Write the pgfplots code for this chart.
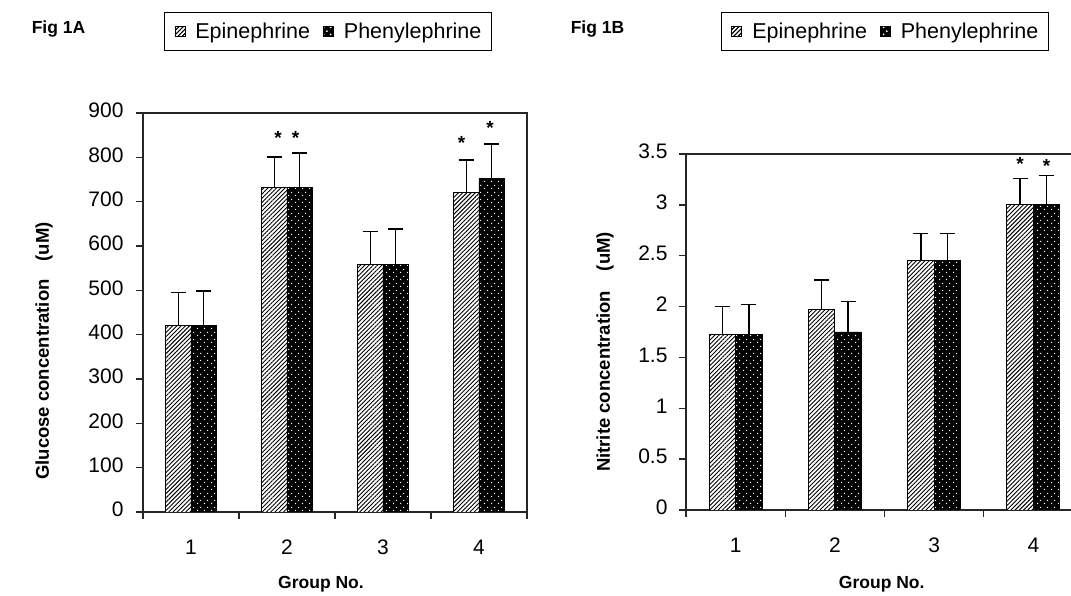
\documentclass[border=0pt]{standalone}
\usepackage{fontspec}
\setmainfont{Liberation Sans}
\usepackage{pgfplots}
\pgfplotsset{compat=1.18}
\usetikzlibrary{patterns.meta}

\tikzdeclarepattern{
  name=wdots,
  type=uncolored,
  bounding box={(0pt,0pt) and (7pt,7pt)},
  tile size={(7pt,7pt)},
  code={
    \fill (1.75pt,1.75pt) circle (0.85pt);
    \fill (5.25pt,5.25pt) circle (0.85pt);
  }
}

\pgfplotsset{
  hatchbar/.style={ybar, bar shift=0pt, draw=black, line width=0.8pt, fill=white,
    postaction={pattern={Lines[angle=45,distance=3pt,line width=0.9pt]}, pattern color=black},
    legend image code/.code={\draw[line width=0.8pt, fill=white, postaction={pattern={Lines[angle=45,distance=3pt,line width=0.8pt]}}] (0pt,-5pt) rectangle (10pt,5pt);}},
  dotbar/.style={ybar, bar shift=0pt, draw=black, line width=0.8pt, fill=black,
    postaction={pattern=wdots, pattern color=white},
    legend image code/.code={\draw[line width=0.8pt, fill=black, postaction={pattern=wdots, pattern color=white}] (0pt,-5pt) rectangle (10pt,5pt);}},
  errs/.style={error bars/.cd, y dir=plus, y explicit,
    error bar style={line width=1.5pt, black},
    error mark options={rotate=90, mark size=7.5pt, line width=1.5pt, black}},
  stars/.style={only marks, mark=none, forget plot,
    nodes near coords={\textbf{*}}, nodes near coords align={center},
    every node near coord/.append style={font=\fontsize{19}{19}\selectfont, inner sep=0pt}},
  base/.style={
    scale only axis,
    axis line style={line width=1.3pt, black!85},
    tick style={line width=1.3pt, black!85},
    tick align=outside,
    xtick pos=bottom, ytick pos=left,
    major tick length=7pt, minor tick length=7pt,
    xmin=0.5, xmax=4.5,
    xtick={1,2,3,4}, major x tick style={draw=none},
    minor xtick={0.5,1.5,2.5,3.5,4.5},
    ticklabel style={font=\fontsize{21}{24}\selectfont, black},
    typeset ticklabels with strut,
    xticklabel style={yshift=-15pt},
    /pgf/number format/assume math mode=true,
    xlabel style={font=\fontsize{17.5}{20}\selectfont\bfseries, anchor=center},
    ylabel style={font=\fontsize{18.5}{20}\selectfont\bfseries, anchor=center},
    legend columns=2,
    legend style={draw=black, line width=1pt, font=\fontsize{21.5}{24}\selectfont,
      anchor=center, inner xsep=10pt, inner ysep=10pt,
      nodes={inner sep=0pt},
      /tikz/every odd column/.append style={column sep=10pt},
      /tikz/every even column/.append style={column sep=13pt}},
  }
}

\begin{document}
\begin{tikzpicture}
\useasboundingbox (0pt,0pt) rectangle (1071pt,596pt);
\clip (0pt,0pt) rectangle (1071pt,596pt);

\node[font=\fontsize{17.5}{19}\selectfont\bfseries] at (58.5pt,567pt) {Fig 1A};
\node[font=\fontsize{17.5}{19}\selectfont\bfseries] at (597.5pt,567pt) {Fig 1B};

% ---------- Fig 1A ----------
\begin{axis}[base,
  at={(143pt,84pt)}, anchor=south west,
  width=384pt, height=399pt,
  ymin=0, ymax=900, ytick={0,100,...,900},
  yticklabel style={xshift=-9pt},
  legend style={at={(0.4818,1.2043)}},
  xlabel={Group No.},
  xlabel style={at={(axis description cs:0.4635,-0.1805)}},
  ylabel={Glucose concentration\hspace{18pt}(uM)},
  ylabel style={at={(axis description cs:-0.2578,0.4035)}},
]
\addplot[hatchbar, bar width=25.5pt, errs] coordinates {
  (0.8672,420) +- (0,75)
  (1.8672,732) +- (0,69)
  (2.8672,559) +- (0,74)
  (3.8672,720) +- (0,74)
};
\addlegendentry{Epinephrine}
\addplot[dotbar, bar width=25.5pt, errs] coordinates {
  (1.1328,420) +- (0,79)
  (2.1328,732) +- (0,78)
  (3.1328,559) +- (0,79)
  (4.1328,752) +- (0,78)
};
\addlegendentry{Phenylephrine}
\addplot[stars] coordinates {(1.906,843) (2.089,843) (3.818,832) (4.115,867)};
\end{axis}

% ---------- Fig 1B ----------
\begin{axis}[base,
  at={(686pt,86pt)}, anchor=south west,
  width=397pt, height=356pt,
  ymin=0, ymax=3.5, ytick={0,0.5,...,3.5},
  yticklabel style={xshift=-8pt},
  legend style={at={(0.501,1.344)}},
  xlabel={Group No.},
  xlabel style={at={(axis description cs:0.493,-0.2079)}},
  ylabel={Nitrite concentration\hspace{20pt}(uM)},
  ylabel style={at={(axis description cs:-0.204,0.4438)}},
]
\addplot[hatchbar, bar width=26.5pt, errs] coordinates {
  (0.8665,1.73) +- (0,0.27)
  (1.8665,1.97) +- (0,0.29)
  (2.8665,2.45) +- (0,0.27)
  (3.8665,3.00) +- (0,0.26)
};
\addlegendentry{Epinephrine}
\addplot[dotbar, bar width=26.5pt, errs] coordinates {
  (1.1335,1.73) +- (0,0.29)
  (2.1335,1.75) +- (0,0.30)
  (3.1335,2.45) +- (0,0.27)
  (4.1335,3.00) +- (0,0.29)
};
\addlegendentry{Phenylephrine}
\addplot[stars] coordinates {(3.8665,3.40) (4.1335,3.38)};
\end{axis}
\end{tikzpicture}
\end{document}
